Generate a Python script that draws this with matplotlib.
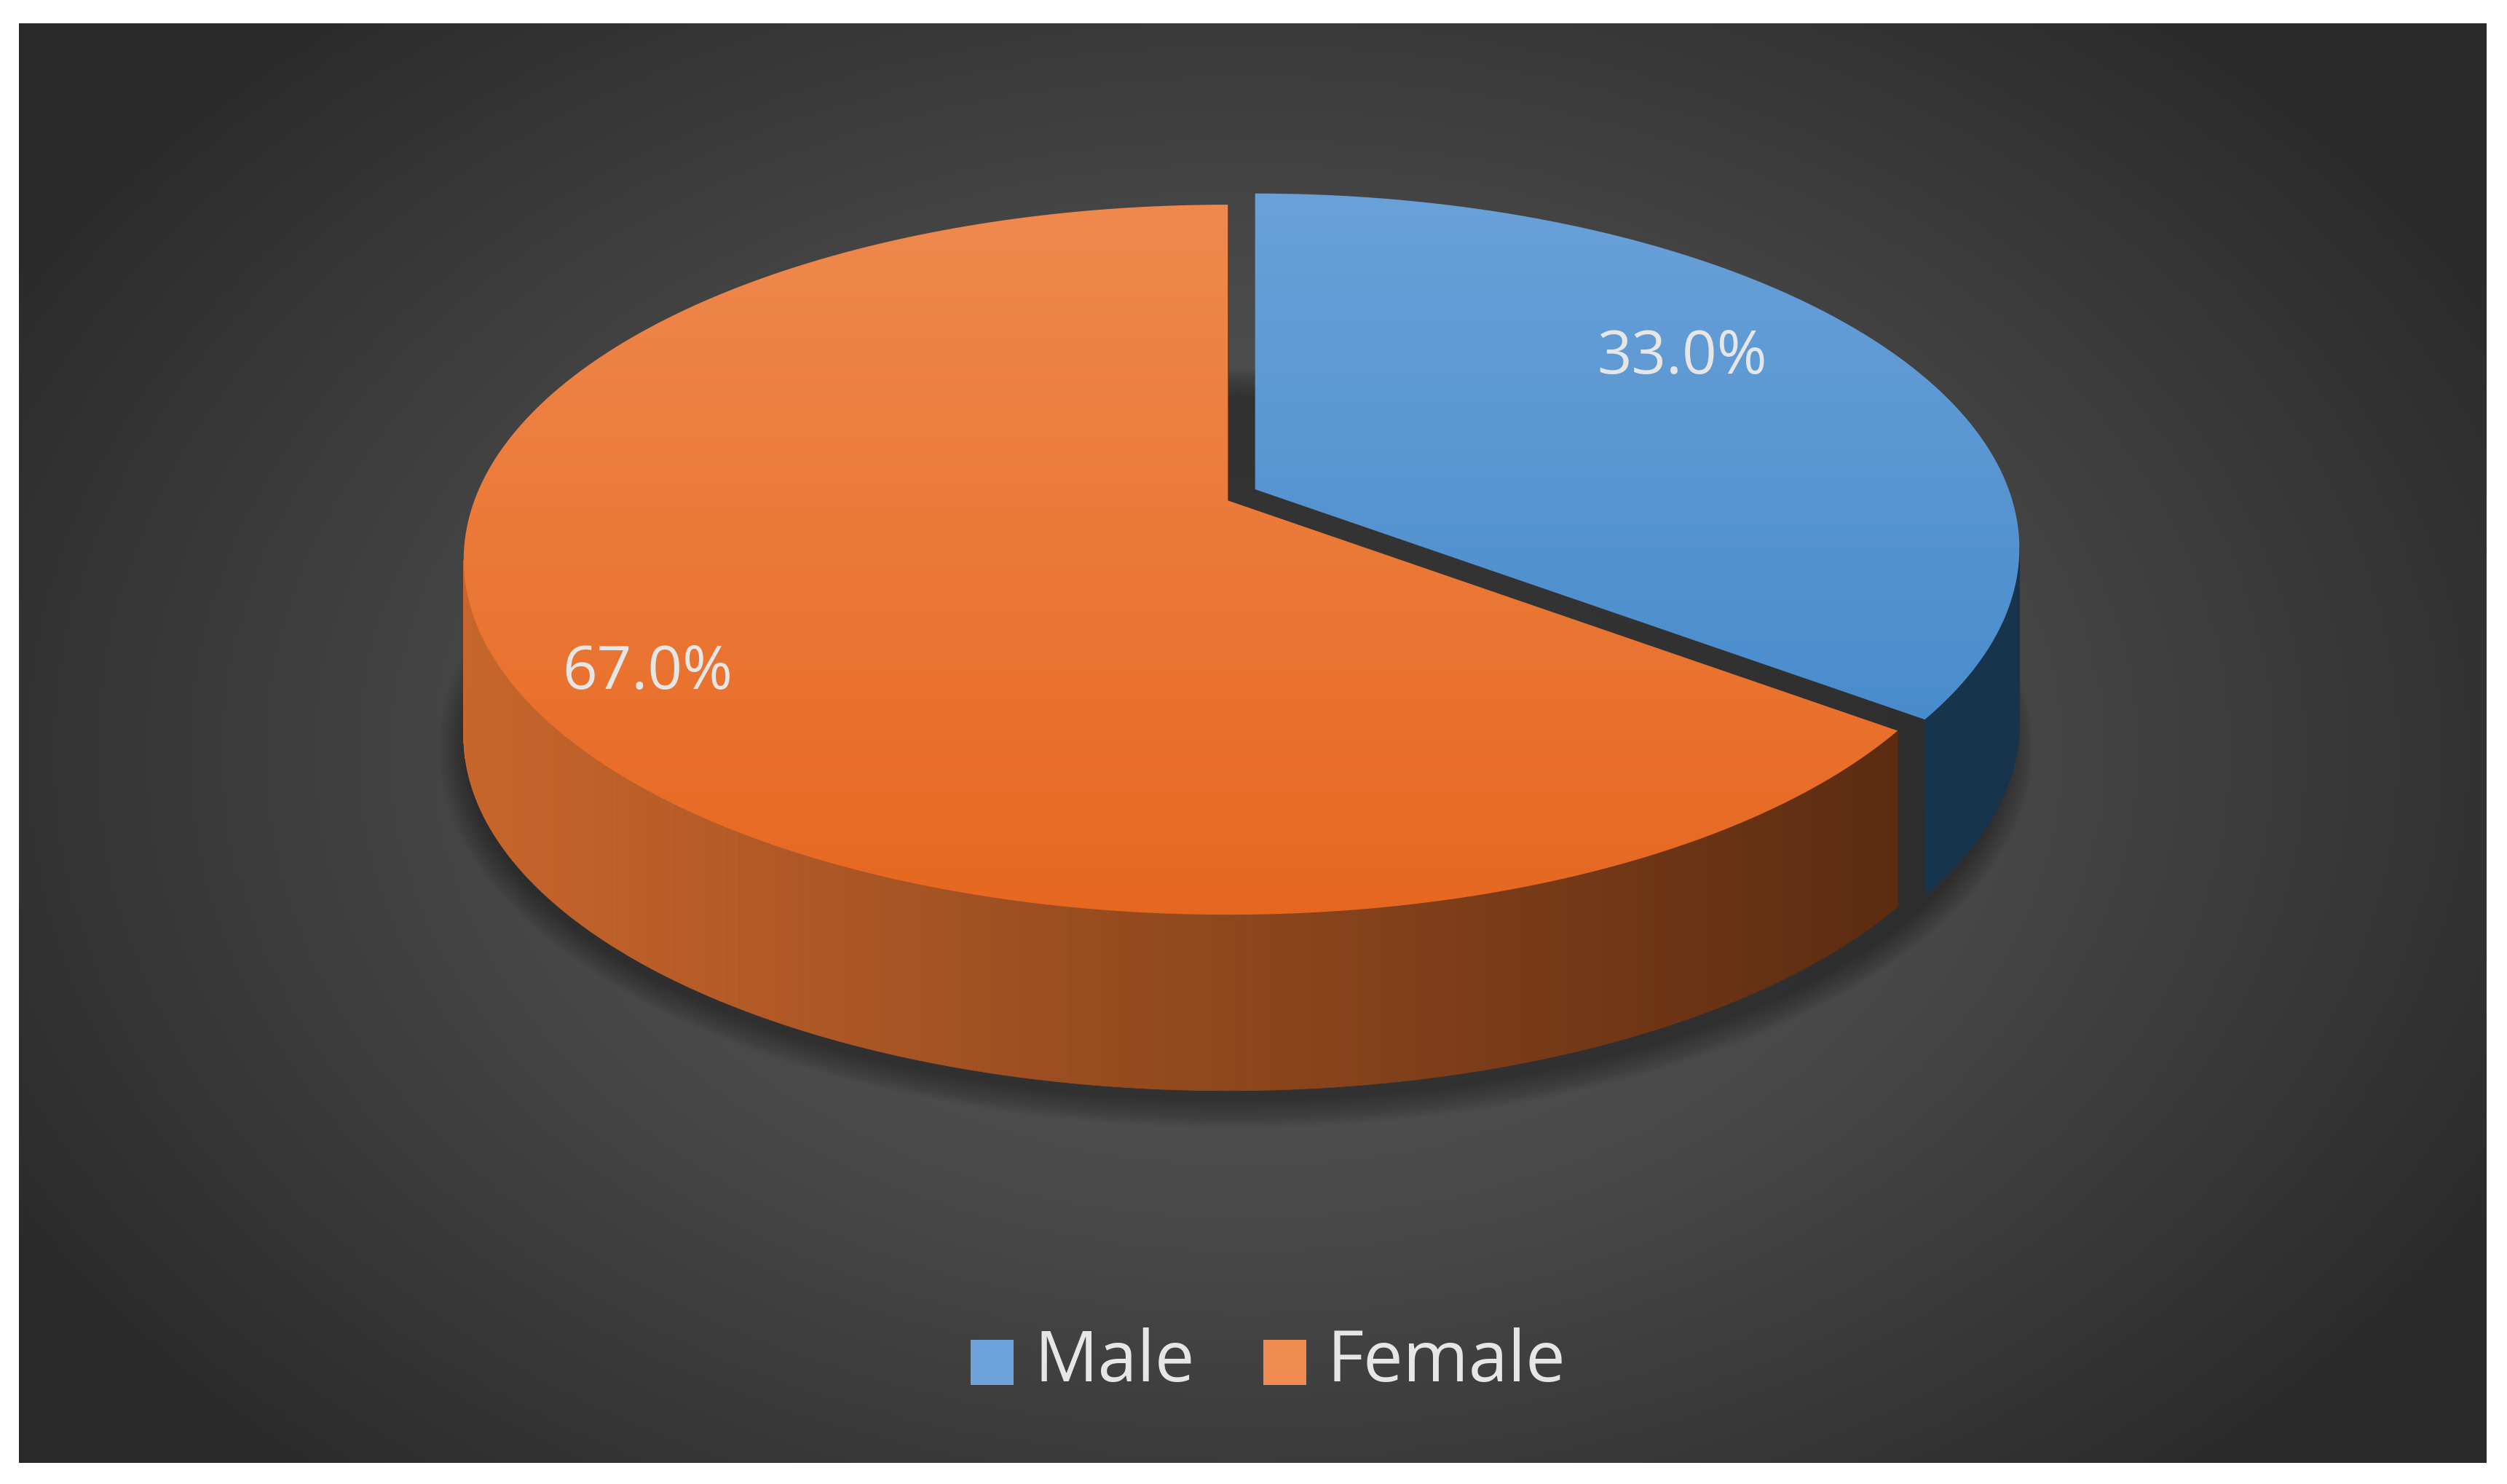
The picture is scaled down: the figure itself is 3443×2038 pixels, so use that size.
import numpy as np
import matplotlib
matplotlib.use("Agg")
import matplotlib.pyplot as plt
from matplotlib.patches import Polygon, Rectangle, Ellipse
from matplotlib.colors import LinearSegmentedColormap

categories = ["Male", "Female"]
values = [33.0, 67.0]
labels = ["33.0%", "67.0%"]
top_colors = [("#6da3da", "#3c84c8"), ("#f08c52", "#e6671f")]
side_colors = [("#1f4868", "#17344c"), ("#c8662c", "#55280f")]

W, H = 1568, 928
fig = plt.figure(figsize=(34.43, 20.38), dpi=100)
ax = fig.add_axes([0, 0, 1, 1])
ax.set_xlim(0, W); ax.set_ylim(H, 0); ax.axis("off")
fig.patch.set_facecolor("white")

# background radial gradient
px0, px1, py0, py1 = 12, 1555, 15, 915
yy, xx = np.mgrid[py0:py1:2, px0:px1:2]
d = np.sqrt(((xx - 780) / 900) ** 2 + ((yy - 470) / 620) ** 2)
bg = LinearSegmentedColormap.from_list("bg", ["#5a5a5a", "#484848", "#2a2a2a"])
ax.imshow(np.clip(d, 0, 1), cmap=bg, extent=(px0, px1, py1, py0), aspect="auto", zorder=0, vmin=0, vmax=1)

cx, cy, rx, ry, depth = 768, 350, 478, 222, 110
offsets = [(17, -7), (0, 0)]

# shadow
for k in range(12):
    ax.add_patch(Ellipse((cx + 5, cy + depth + 8), 2 * rx + 40 - 3 * k, 2 * ry + 30 - 3 * k,
                         color="#1a1a1a", alpha=0.05, lw=0, zorder=1))

fr = np.array(values) / sum(values)
starts = 90 - 360 * np.concatenate([[0], np.cumsum(fr)[:-1]])
ends = starts - 360 * fr

def pt(t, ox, oy, dz=0):
    return cx + ox + rx * np.cos(np.radians(t)), cy + oy - ry * np.sin(np.radians(t)) + dz

def draw_side(i, z):
    ox, oy = offsets[i]
    a0, a1 = ends[i] % 360, starts[i] % 360
    if a1 <= a0: a1 += 360
    ts = np.linspace(a0, a1, 400)
    cm = LinearSegmentedColormap.from_list("s", side_colors[i])
    for j in range(len(ts) - 1):
        t0, t1 = ts[j], ts[j + 1]
        if np.sin(np.radians((t0 + t1) / 2)) > 0:
            continue
        xa, ya = pt(t0, ox, oy); xb, yb = pt(t1, ox, oy)
        frac = ((xa + xb) / 2 - (cx - rx)) / (2 * rx)
        c = cm(np.clip(frac, 0, 1))
        ax.add_patch(Polygon([(xa, ya), (xb, yb), (xb, yb + depth), (xa, ya + depth)],
                             closed=True, fc=c, ec=c, lw=0.6, zorder=z))

def draw_cut(i, ang, z, col):
    ox, oy = offsets[i]
    x, y = pt(ang, ox, oy)
    ax.add_patch(Polygon([(cx + ox, cy + oy - 37), (x, y), (x, y + depth), (cx + ox, cy + oy - 37 + depth)],
                         closed=True, fc=col, ec=col, zorder=z))

def draw_top(i, z):
    ox, oy = offsets[i]
    ts = np.linspace(starts[i], ends[i], 400)
    xs, ys = pt(ts, ox, oy)
    poly = Polygon(np.column_stack([np.r_[cx + ox, xs], np.r_[cy + oy - 37, ys]]),
                   closed=True, fc="none", ec="none", zorder=z)
    ax.add_patch(poly)
    cm = LinearSegmentedColormap.from_list("t", top_colors[i])
    grad = np.linspace(0, 1, 256)[:, None]
    im = ax.imshow(grad, cmap=cm, extent=(cx - rx - 50, cx + rx + 50, cy + ry + 10, cy - ry - 40),
                   aspect="auto", zorder=z)
    im.set_clip_path(poly)

draw_side(0, 2)
draw_top(0, 4)
draw_cut(1, ends[1], 5, "#5a2a10")
draw_side(1, 6)
draw_top(1, 7)

font = "Open Sans"
ax.text(1052, 224, labels[0], color="#e6e6e6", fontsize=60, ha="center", va="center", family=font, zorder=10)
ax.text(405, 421, labels[1], color="#e6e6e6", fontsize=60, ha="center", va="center", family=font, zorder=10)

leg = [(607, top_colors[0][0]), (790, top_colors[1][0])]
for (x, c), name in zip(leg, categories):
    ax.add_patch(Rectangle((x, 838), 27, 28, fc=c, ec="none", zorder=10))
    ax.text(x + 40, 852, name, color="#e6e6e6", fontsize=70, ha="left", va="center", family=font, zorder=10)

fig.savefig("out.png", dpi=100, facecolor="white")
